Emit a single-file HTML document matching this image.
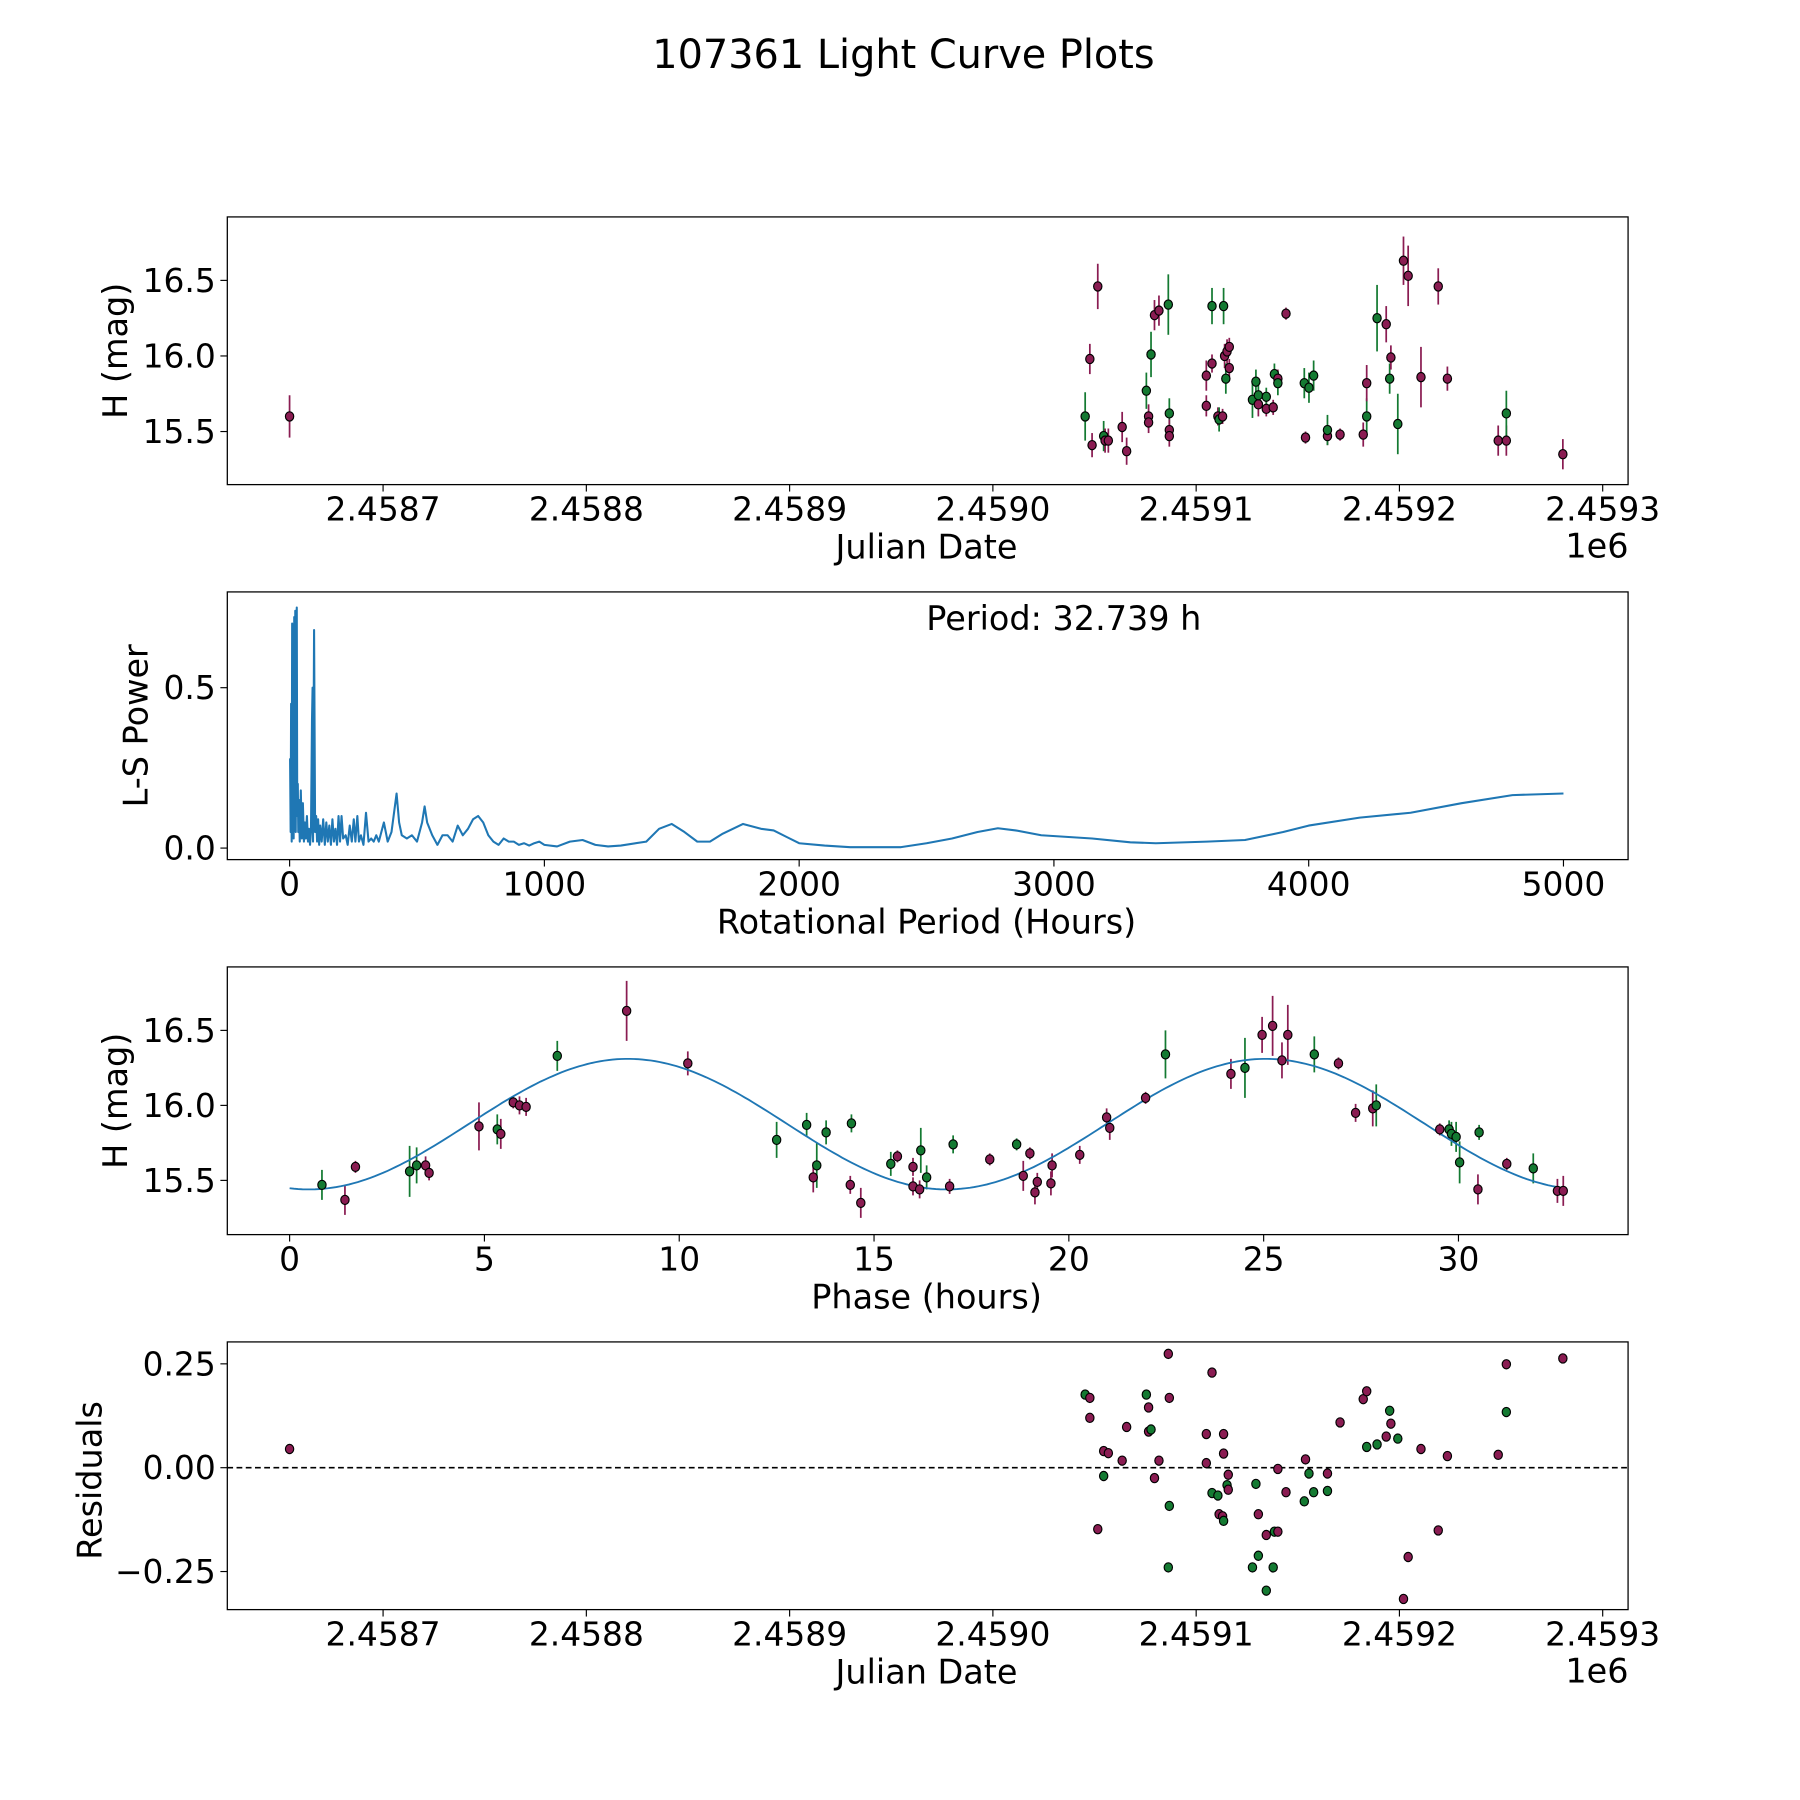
<!DOCTYPE html>
<html><head><meta charset="utf-8">
<style>
html,body{margin:0;padding:0;background:#fff;}
svg{display:block;font-family:"DejaVu Sans","Liberation Sans",sans-serif;}
</style></head>
<body>
<svg id="chart" width="1800" height="1800" viewBox="0 0 1560 1560" xmlns="http://www.w3.org/2000/svg">
<text x="783" y="59" font-size="34.5" text-anchor="middle">107361 Light Curve Plots</text>
<g id="p1"></g>
<g id="p2"></g>
<g id="p3"></g>
<g id="p4"></g>
</svg>
<script>
// ---- data: light curve (days relative to JD 2459000) ----
const lcDays=[-346,45.4,47.7,48.8,51.6,54.5,55.2,56.8,63.6,65.8,75.5,76.6,76.6,77.8,79.5,81.7,86.3,86.8,86.8,86.8,105,105,107.8,107.8,110.7,111.3,113,113.5,114,114.6,115.2,116.3,116.3,127.7,129.4,130.6,130.6,134.5,134.5,137.9,138.5,140.2,140.2,144.2,153.2,153.8,155.5,157.8,164.6,164.6,170.8,182.2,183.9,183.9,189,193.5,195.2,195.8,199.2,202,204.3,210.6,219.1,223.6,248.6,252.6,252.6,280.4];
const lcMag=[15.60,15.60,15.98,15.41,16.46,15.47,15.44,15.44,15.53,15.37,15.77,15.60,15.56,16.01,16.27,16.30,16.34,15.62,15.51,15.47,15.67,15.87,15.95,16.33,15.60,15.58,15.60,16.33,16.00,15.85,16.03,16.06,15.92,15.71,15.83,15.68,15.74,15.65,15.73,15.66,15.88,15.85,15.82,16.28,15.82,15.46,15.79,15.87,15.47,15.51,15.48,15.48,15.60,15.82,16.25,16.21,15.85,15.99,15.55,16.63,16.53,15.86,16.46,15.85,15.44,15.44,15.62,15.35];
const lcErr=[0.14,0.16,0.1,0.08,0.15,0.1,0.08,0.08,0.1,0.09,0.12,0.08,0.07,0.15,0.1,0.1,0.2,0.1,0.07,0.07,0.07,0.1,0.06,0.12,0.06,0.08,0.05,0.12,0.08,0.1,0.08,0.06,0.06,0.12,0.08,0.08,0.08,0.05,0.06,0.05,0.07,0.06,0.08,0.04,0.1,0.04,0.1,0.1,0.06,0.1,0.04,0.08,0.12,0.12,0.22,0.12,0.1,0.08,0.2,0.16,0.2,0.2,0.12,0.08,0.1,0.1,0.15,0.1];
const lcBand=["m","g","m","m","m","g","m","m","m","m","g","m","m","g","m","m","g","g","m","m","m","m","m","g","m","g","m","g","m","g","m","m","m","g","g","m","g","m","g","m","g","m","g","m","g","m","g","g","m","g","m","m","g","m","g","m","g","m","g","m","m","m","m","m","m","m","g","m"];
const jdTicks=[2.4587,2.4588,2.4589,2.4590,2.4591,2.4592,2.4593];
const jdTickLabels=["2.4587","2.4588","2.4589","2.4590","2.4591","2.4592","2.4593"];
const magTicks=[15.5,16.0,16.5];
const magTickLabels=["15.5","16.0","16.5"];
// ---- periodogram ----
const lsPeriod=[2,4,6,8,10,12,14,16,18,20,22,24,28,30,32,34,36,40,44,48,52,56,60,64,68,72,76,80,84,88,90,92,96,100,104,108,112,116,120,126,132,138,144,150,156,162,168,174,180,186,192,198,204,210,220,228,236,244,252,258,266,272,280,290,300,310,320,330,340,350,370,385,400,420,430,440,460,480,500,520,530,540,560,580,600,620,640,660,680,700,720,740,760,780,800,820,840,860,880,900,920,940,960,980,1000,1050,1100,1150,1200,1250,1300,1400,1450,1500,1550,1600,1650,1700,1780,1850,1900,1950,2000,2100,2200,2400,2500,2600,2700,2780,2850,2950,3050,3150,3300,3400,3600,3750,3900,4000,4200,4400,4600,4800,5000];
const lsPower=[0.28,0.05,0.45,0.02,0.70,0.05,0.62,0.03,0.72,0.1,0.74,0.05,0.75,0.1,0.2,0.05,0.15,0.02,0.18,0.03,0.14,0.02,0.08,0.03,0.1,0.02,0.06,0.01,0.05,0.4,0.5,0.02,0.68,0.05,0.1,0.02,0.09,0.01,0.07,0.02,0.09,0.01,0.08,0.02,0.07,0.01,0.09,0.02,0.06,0.01,0.1,0.02,0.1,0.03,0.04,0.01,0.07,0.02,0.09,0.02,0.1,0.02,0.04,0.01,0.11,0.02,0.03,0.02,0.04,0.02,0.08,0.02,0.05,0.17,0.08,0.04,0.03,0.04,0.02,0.08,0.13,0.08,0.04,0.01,0.04,0.04,0.02,0.07,0.04,0.06,0.09,0.1,0.08,0.04,0.02,0.01,0.03,0.02,0.02,0.01,0.015,0.008,0.015,0.02,0.01,0.005,0.02,0.025,0.01,0.005,0.008,0.02,0.06,0.075,0.05,0.02,0.02,0.045,0.075,0.06,0.055,0.035,0.015,0.008,0.003,0.003,0.015,0.03,0.05,0.062,0.055,0.04,0.035,0.03,0.018,0.015,0.02,0.025,0.05,0.07,0.095,0.11,0.14,0.165,0.17];
const perTicks=[0,1000,2000,3000,4000,5000];
const powTicks=[0,0.5];
const powTickLabels=["0.0","0.5"];
// ---- phase fold ----
const phHours=[0.83,1.42,1.69,3.08,3.26,3.49,3.58,4.86,5.33,5.42,5.74,5.9,6.07,6.87,8.65,10.22,12.5,13.27,13.44,13.53,13.77,14.39,14.42,14.66,15.43,15.6,16.0,16.0,16.17,16.2,16.35,16.94,17.03,17.97,18.66,18.83,19.0,19.13,19.19,19.54,19.57,20.28,20.97,21.05,21.97,22.48,24.16,24.52,24.96,25.23,25.47,25.62,26.3,26.92,27.36,27.8,27.89,29.52,29.76,29.82,29.94,30.03,30.5,30.53,31.24,31.92,32.54,32.69];
const phMag=[15.47,15.37,15.59,15.56,15.60,15.60,15.55,15.86,15.84,15.81,16.02,16.00,15.99,16.33,16.63,16.28,15.77,15.87,15.52,15.60,15.82,15.47,15.88,15.35,15.61,15.66,15.59,15.46,15.44,15.70,15.52,15.46,15.74,15.64,15.74,15.53,15.68,15.42,15.49,15.48,15.60,15.67,15.92,15.85,16.05,16.34,16.21,16.25,16.47,16.53,16.30,16.47,16.34,16.28,15.95,15.98,16.00,15.84,15.84,15.81,15.79,15.62,15.44,15.82,15.61,15.58,15.43,15.43];
const phErr=[0.1,0.1,0.04,0.17,0.12,0.06,0.05,0.16,0.1,0.1,0.04,0.06,0.06,0.1,0.2,0.08,0.12,0.08,0.1,0.15,0.08,0.06,0.06,0.1,0.08,0.04,0.06,0.06,0.06,0.15,0.08,0.05,0.06,0.04,0.04,0.1,0.04,0.08,0.06,0.08,0.08,0.06,0.06,0.08,0.04,0.16,0.1,0.2,0.12,0.2,0.12,0.2,0.12,0.04,0.06,0.12,0.14,0.04,0.06,0.08,0.1,0.14,0.1,0.05,0.04,0.1,0.08,0.1];
const phBand=["g","m","m","g","g","m","m","m","g","m","m","m","m","g","m","m","g","g","m","g","g","m","g","m","g","m","m","m","m","g","g","m","g","m","g","m","m","m","m","m","m","m","m","m","m","g","m","g","m","m","m","m","g","m","m","m","g","m","g","g","g","g","m","g","m","g","m","m"];
const fitParams=[15.875,0.435,16.37,0.5]; // mean, amplitude, half-period, phase offset
const phTicks=[0,5,10,15,20,25,30];
// ---- residuals ----
const resDays=[-346,45.4,47.7,47.7,51.6,54.5,54.5,56.8,63.6,65.8,75.5,76.6,76.6,77.8,79.5,81.7,86.3,86.3,86.8,86.8,105,105,107.8,107.8,110.7,111.3,113,113.5,113.5,113.5,115.2,115.8,115.8,127.7,129.4,130.6,130.6,134.5,134.5,137.9,138.5,140.2,140.2,144.2,153.2,153.8,155.5,157.8,164.6,164.6,170.8,182.2,183.9,183.9,189,193.5,195.2,195.8,199.2,202,204.3,210.6,219.1,223.6,248.6,252.6,252.6,280.4];
const resVal=[0.045,0.176,0.168,0.12,-0.148,0.04,-0.02,0.035,0.017,0.098,0.176,0.145,0.087,0.092,-0.025,0.017,0.274,-0.24,-0.092,0.168,0.081,0.011,-0.061,0.229,-0.067,-0.112,-0.117,0.081,0.034,-0.128,-0.042,-0.017,-0.053,-0.24,-0.039,-0.212,-0.112,-0.162,-0.296,-0.24,-0.154,-0.154,-0.003,-0.059,-0.081,0.02,-0.014,-0.059,-0.014,-0.056,0.109,0.165,0.184,0.05,0.056,0.075,0.137,0.106,0.07,-0.316,-0.215,0.045,-0.151,0.028,0.031,0.249,0.134,0.263];
const resBand=["m","g","m","m","m","m","g","m","m","m","g","m","m","g","m","m","m","g","g","m","m","m","g","m","g","m","m","m","m","g","g","m","m","g","g","g","m","m","g","g","g","m","m","m","g","m","g","g","m","g","m","m","m","g","g","m","g","m","g","m","m","m","m","m","m","m","g","m"];
const resTicks=[-0.25,0,0.25];
const resTickLabels=["\u22120.25","0.00","0.25"];

const NS="http://www.w3.org/2000/svg";
const COL={m:"#8a1c52",g:"#147a32"};
const TF=28.5, LF=29;
function el(parent,tag,attrs){const e=document.createElementNS(NS,tag);for(const k in attrs)e.setAttribute(k,attrs[k]);parent.appendChild(e);return e;}
function lin(d0,d1,r0,r1){return v=>r0+(v-d0)*(r1-r0)/(d1-d0);}
function frame(g,x0,y0,x1,y1){const r=el(g,"rect",{x:x0,y:y0,width:x1-x0,height:y1-y0,fill:"none",stroke:"#000","stroke-width":1.1});

}
function xtick(g,x,y,label,name){el(g,"line",{x1:x,x2:x,y1:y,y2:y+6,stroke:"#000","stroke-width":1});
const t=el(g,"text",{x:x,y:y+31,"font-size":TF,"text-anchor":"middle"});t.textContent=label;

}
function ytick(g,x,y,label,name){el(g,"line",{x1:x-6,x2:x,y1:y,y2:y,stroke:"#000","stroke-width":1});
const t=el(g,"text",{x:x-10,y:y+10,"font-size":TF,"text-anchor":"end"});t.textContent=label;

}
function label(g,x,y,txt,rot,name){const t=el(g,"text",{x:x,y:y,"font-size":LF,"text-anchor":"middle"});t.textContent=txt;
if(rot)t.setAttribute("transform","rotate(-90 "+x+" "+y+")");

}
function marker(g,x,y,c,name){const e=el(g,"ellipse",{cx:x,cy:y,rx:3.6,ry:4,fill:COL[c],stroke:"#000","stroke-width":1});

}
function errbar(g,x,y1,y2,c){const l=el(g,"line",{x1:x,x2:x,y1:y1,y2:y2,stroke:COL[c],"stroke-width":1.5});

}

const jdX=lin(-300,300,332,1389);
function jdTickX(t){return jdX(Math.round((t-2.4590)*1e6));}

// Panel 1
(function(){const g=document.getElementById("p1");const X0=197,X1=1411,Y0=188,Y1=420;
const Y=lin(15.5,16.5,374,243);
frame(g,X0,Y0,X1,Y1);
jdTicks.forEach((t,i)=>xtick(g,jdTickX(t),Y1,jdTickLabels[i],"x-tick-label"));
magTicks.forEach((t,i)=>ytick(g,X0,Y(t),magTickLabels[i],"y-tick-label"));
lcDays.forEach((d,i)=>{errbar(g,jdX(d),Y(lcMag[i]-lcErr[i]),Y(lcMag[i]+lcErr[i]),lcBand[i]);});
lcDays.forEach((d,i)=>marker(g,jdX(d),Y(lcMag[i]),lcBand[i],"light-curve-point"));
label(g,803,484,"Julian Date",false,"x-axis-title");
label(g,1384,483,"1e6",false,"x-axis-offset");
label(g,110,304,"H (mag)",true,"y-axis-title");})();

// Panel 2
(function(){const g=document.getElementById("p2");const X0=197,X1=1411,Y0=513,Y1=745;
const X=lin(0,5000,251,1355),Y=lin(0,0.5,735,596);
frame(g,X0,Y0,X1,Y1);
perTicks.forEach(t=>xtick(g,X(t),Y1,String(t),"x-tick-label"));
powTicks.forEach((t,i)=>ytick(g,X0,Y(t),powTickLabels[i],"y-tick-label"));
let d="";lsPeriod.forEach((p,i)=>{d+=(i?"L":"M")+X(p).toFixed(1)+" "+Y(lsPower[i]).toFixed(1);});
const p=el(g,"path",{d:d,fill:"none",stroke:"#1f77b4","stroke-width":1.8,"stroke-linejoin":"round"});


const t=el(g,"text",{x:922,y:546,"font-size":LF,"text-anchor":"middle"});t.textContent="Period: 32.739 h";


label(g,803,809,"Rotational Period (Hours)",false,"x-axis-title");
label(g,128,629,"L-S Power",true,"y-axis-title");})();

// Panel 3
(function(){const g=document.getElementById("p3");const X0=197,X1=1411,Y0=838,Y1=1070;
const X=lin(0,30,251,1264),Y=lin(15.5,16.5,1023,893);
frame(g,X0,Y0,X1,Y1);
phTicks.forEach(t=>xtick(g,X(t),Y1,String(t),"x-tick-label"));
magTicks.forEach((t,i)=>ytick(g,X0,Y(t),magTickLabels[i],"y-tick-label"));
phHours.forEach((h,i)=>errbar(g,X(h),Y(phMag[i]-phErr[i]),Y(phMag[i]+phErr[i]),phBand[i]));
let d="";for(let i=0;i<=300;i++){const h=32.739*i/300;const v=fitParams[0]-fitParams[1]*Math.cos(2*Math.PI*(h-fitParams[3])/fitParams[2]);d+=(i?"L":"M")+X(h).toFixed(1)+" "+Y(v).toFixed(1);}
const p=el(g,"path",{d:d,fill:"none",stroke:"#1f77b4","stroke-width":1.6});


phHours.forEach((h,i)=>marker(g,X(h),Y(phMag[i]),phBand[i],"phase-point"));
label(g,803,1134,"Phase (hours)",false,"x-axis-title");
label(g,110,954,"H (mag)",true,"y-axis-title");})();

// Panel 4
(function(){const g=document.getElementById("p4");const X0=197,X1=1411,Y0=1163,Y1=1395;
const Y=lin(0,0.25,1272,1182);
frame(g,X0,Y0,X1,Y1);
jdTicks.forEach((t,i)=>xtick(g,jdTickX(t),Y1,jdTickLabels[i],"x-tick-label"));
resTicks.forEach((t,i)=>ytick(g,X0,Y(t),resTickLabels[i],"y-tick-label"));
const z=el(g,"line",{x1:X0,x2:X1,y1:Y(0),y2:Y(0),stroke:"#000","stroke-width":1.5,"stroke-dasharray":"5,3"});


resDays.forEach((d,i)=>marker(g,jdX(d),Y(resVal[i]),resBand[i],"residual-point"));
label(g,803,1459,"Julian Date",false,"x-axis-title");
label(g,1384,1458,"1e6",false,"x-axis-offset");
label(g,88,1283,"Residuals",true,"y-axis-title");})();
</script>
</body></html>
